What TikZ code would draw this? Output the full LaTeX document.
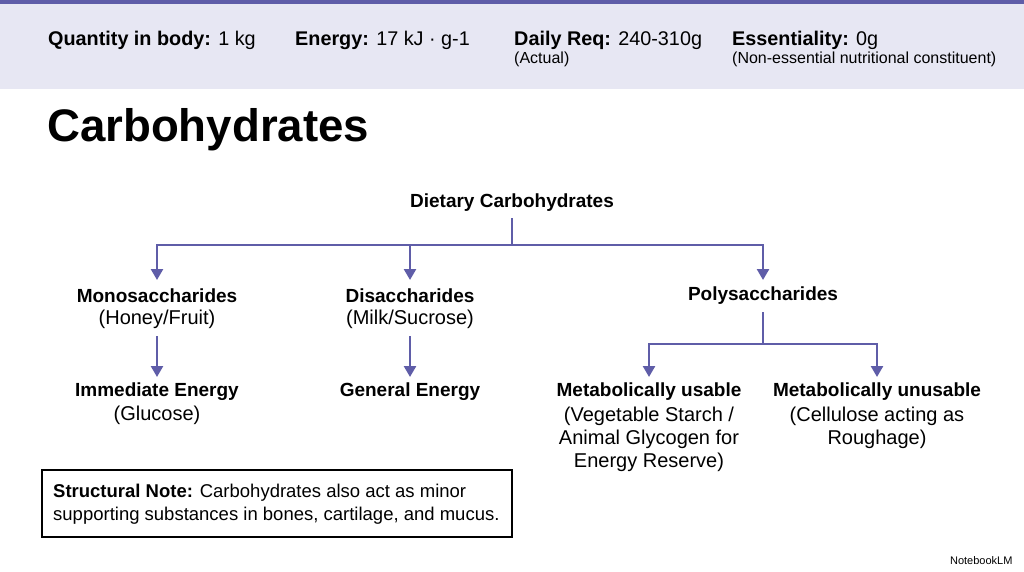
\documentclass[tikz,border=0pt]{standalone}
\usepackage{fontspec}
\setmainfont{Liberation Sans}
\usetikzlibrary{arrows.meta}
\definecolor{band}{HTML}{E7E7F3}
\definecolor{pur}{HTML}{5F5DA8}
\begin{document}
\begin{tikzpicture}[x=1pt,y=-1pt,
  hd/.style={font=\fontsize{19.8}{22}\selectfont},
  sm/.style={font=\fontsize{16}{19}\selectfont},
  tn/.style={font=\fontsize{19}{23}\selectfont\bfseries,align=center},
  sub/.style={font=\fontsize{20}{23}\selectfont,align=center},
  conn/.style={pur,line width=2.5pt},
  arr/.style={conn,-{Triangle[length=11pt,width=12pt]}}]
\useasboundingbox (0,0) rectangle (1024,572);
\fill[white] (0,0) rectangle (1024,572);
\fill[band] (0,0) rectangle (1024,89);
\fill[pur] (0,0) rectangle (1024,4);
\node[hd,anchor=west,inner sep=0] (q) at (48,40) {\textbf{Quantity in body:} 1 kg};
\node[hd,anchor=west,inner sep=0] (e) at (295,40) {\textbf{Energy:} 17 kJ · g-1};
\node[hd,anchor=west,inner sep=0] (d) at (514,40) {\textbf{Daily Req:} 240-310g};
\node[sm,anchor=west,inner sep=0] (d2) at (514,59) {(Actual)};
\node[hd,anchor=west,inner sep=0] (s) at (732,40) {\textbf{Essentiality:} 0g};
\node[sm,anchor=west,inner sep=0] (s2) at (732,59) {(Non-essential nutritional constituent)};
\node[anchor=west,inner sep=0,font=\fontsize{45.6}{50}\selectfont\bfseries] (t) at (47,130) {Carbohydrates};

\node[tn] (dc) at (512,203) {Dietary Carbohydrates};
\node[tn] (mo) at (157,296) {Monosaccharides};
\node[sub] (mo2) at (157,319) {(Honey/Fruit)};
\node[tn] (di) at (410,296) {Disaccharides};
\node[sub] (di2) at (410,319) {(Milk/Sucrose)};
\node[tn] (po) at (763,296) {Polysaccharides};
\node[tn] (ie) at (157,392) {Immediate Energy};
\node[sub] (ie2) at (157,415) {(Glucose)};
\node[tn] (ge) at (410,392) {General Energy};
\node[tn] (mu) at (649,392) {Metabolically usable};
\node[sub,anchor=north,inner sep=0] (mu2) at (649,407) {(Vegetable Starch /\\Animal Glycogen for\\Energy Reserve)};
\node[tn] (mn) at (877,392) {Metabolically unusable};
\node[sub,anchor=north,inner sep=0] (mn2) at (877,407) {(Cellulose acting as\\Roughage)};

\coordinate (j1) at (512,245);
\draw[conn] (512,218) -- (j1);
\draw[conn] (157,245) -- (763,245);
\draw[arr] (157,244) -- (157,280);
\draw[arr] (410,245) -- (410,280);
\draw[arr] (763,244) -- (763,280);
\draw[arr] (157,336) -- (157,377);
\draw[arr] (410,336) -- (410,377);
\draw[conn] (763,312) -- (763,344);
\draw[conn] (649,344) -- (877,344);
\draw[arr] (649,343) -- (649,377);
\draw[arr] (877,343) -- (877,377);

\draw[line width=2.5pt] (42,470) rectangle (512,537);
\node[anchor=west,align=left,inner sep=0,font=\fontsize{18.5}{23}\selectfont] (n) at (53,504) {\textbf{Structural Note:} Carbohydrates also act as minor\\supporting substances in bones, cartilage, and mucus.};
\node[anchor=east,font=\fontsize{11}{12}\selectfont] (nb) at (1016,561) {NotebookLM};
\end{tikzpicture}
\end{document}
